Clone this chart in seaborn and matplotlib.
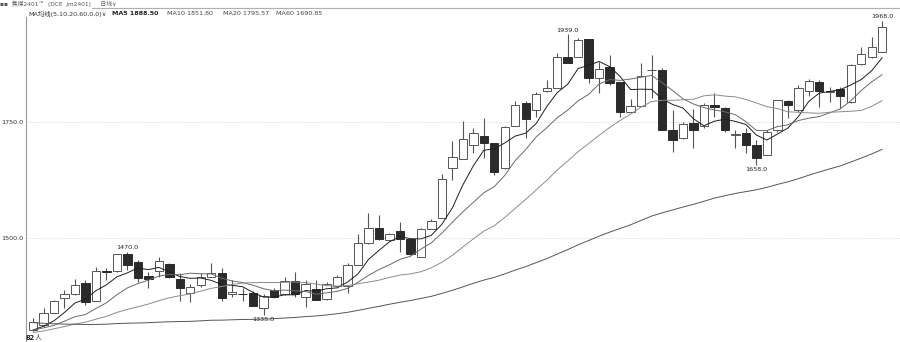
import numpy as np
import pandas as pd
import matplotlib
matplotlib.use("Agg")
import matplotlib.pyplot as plt
import seaborn as sns
from matplotlib.lines import Line2D

# ---- data (jm2401 daily candles) ----
open_ = [1302, 1313, 1339, 1371, 1379, 1403, 1364, 1429, 1428, 1466,
         1448, 1418, 1429, 1444, 1412, 1382, 1399, 1416, 1425, 1379,
         1380, 1382, 1349, 1388, 1379, 1407, 1373, 1390, 1369, 1397,
         1397, 1442, 1489, 1522, 1496, 1515, 1498, 1459, 1520, 1543,
         1651, 1670, 1700, 1720, 1705, 1651, 1741, 1791, 1776, 1817,
         1823, 1890, 1890, 1929, 1845, 1869, 1836, 1772, 1785, 1862,
         1862, 1733, 1716, 1748, 1741, 1787, 1780, 1722, 1726, 1700,
         1679, 1733, 1795, 1776, 1817, 1836, 1815, 1821, 1793, 1875,
         1890, 1901]
high = [1328, 1349, 1367, 1388, 1412, 1410, 1438, 1436, 1466, 1470,
        1453, 1427, 1459, 1446, 1425, 1401, 1425, 1446, 1435, 1410,
        1392, 1386, 1380, 1392, 1416, 1427, 1410, 1410, 1405, 1420,
        1446, 1509, 1554, 1550, 1511, 1535, 1498, 1522, 1541, 1638,
        1709, 1752, 1737, 1759, 1705, 1741, 1795, 1795, 1815, 1841,
        1899, 1939, 1931, 1929, 1879, 1895, 1836, 1800, 1877, 1895,
        1866, 1776, 1750, 1778, 1791, 1813, 1782, 1733, 1737, 1711,
        1733, 1797, 1797, 1830, 1843, 1841, 1826, 1826, 1875, 1912,
        1933, 1968]
low = [1300, 1308, 1338, 1349, 1377, 1356, 1364, 1410, 1427, 1431,
       1405, 1392, 1416, 1414, 1364, 1362, 1395, 1416, 1364, 1373,
       1364, 1354, 1335, 1371, 1377, 1373, 1351, 1366, 1366, 1395,
       1382, 1442, 1487, 1496, 1496, 1470, 1463, 1459, 1520, 1543,
       1625, 1670, 1683, 1673, 1636, 1649, 1741, 1716, 1761, 1815,
       1823, 1877, 1890, 1834, 1813, 1830, 1761, 1772, 1785, 1802,
       1733, 1685, 1713, 1694, 1737, 1761, 1729, 1694, 1683, 1658,
       1679, 1728, 1759, 1772, 1806, 1782, 1793, 1780, 1791, 1873,
       1888, 1901]
close = [1319, 1339, 1364, 1379, 1399, 1362, 1429, 1427, 1465, 1442,
         1414, 1412, 1451, 1416, 1392, 1395, 1416, 1425, 1371, 1384,
         1379, 1354, 1375, 1373, 1407, 1379, 1401, 1366, 1401, 1416,
         1442, 1489, 1522, 1498, 1509, 1498, 1466, 1520, 1537, 1627,
         1675, 1713, 1726, 1705, 1642, 1739, 1787, 1757, 1810, 1823,
         1890, 1877, 1927, 1845, 1864, 1834, 1772, 1785, 1849, 1862,
         1733, 1711, 1746, 1733, 1787, 1782, 1733, 1722, 1700, 1673,
         1728, 1797, 1787, 1823, 1838, 1817, 1815, 1806, 1873, 1897,
         1912, 1955]
# closes before the visible window (not drawn), estimated from the MA curves
prev_close = [1425, 1418, 1430, 1410, 1402, 1415, 1396, 1388, 1400, 1380,
              1372, 1385, 1366, 1360, 1372, 1352, 1345, 1358, 1340, 1334,
              1345, 1330, 1322, 1328, 1305, 1290, 1282, 1270, 1262, 1255,
              1248, 1252, 1240, 1236, 1245, 1238, 1250, 1262, 1255, 1268,
              1275, 1270, 1282, 1290, 1285, 1298, 1305, 1296, 1310, 1302,
              1295, 1308, 1290, 1302, 1315, 1298, 1305, 1290, 1297]
ma_windows = [5, 10, 20, 60]
ma_values = ["1888.50", "1851.80", "1795.57", "1690.85"]
ytick_values = [1500, 1750]
marks_high = {9: "1470.0", 51: "1939.0", 81: "1968.0"}
marks_low = {22: "1335.0", 69: "1658.0"}

# ---- build table ----
n = len(close)
full = pd.Series(prev_close + close, dtype=float)
df = pd.DataFrame({"idx": np.arange(n), "open": open_, "high": high,
                   "low": low, "close": close})
for w in ma_windows:
    df[f"MA{w}"] = full.rolling(w).mean().iloc[len(prev_close):].to_numpy()

sns.set_style("white")
plt.rcParams["font.family"] = ["DejaVu Sans", "Noto Sans CJK SC"]

W, H = 900, 342
fig = plt.figure(figsize=(W / 100, H / 100), dpi=100)
fig.patch.set_facecolor("white")
ax = fig.add_axes([26 / W, 0, (W - 26) / W, (H - 17) / H])
ax.set_facecolor("white")

# candles
up = df["close"] >= df["open"]
body_lo = np.minimum(df["open"], df["close"])
body_hi = np.maximum(df["open"], df["close"])
ax.vlines(df["idx"], df["low"], body_lo, color="#555555", lw=0.8, zorder=2)
ax.vlines(df["idx"], body_hi, df["high"], color="#555555", lw=0.8, zorder=2)
heights = np.maximum(body_hi - body_lo, 1.2)
ax.bar(df["idx"][up], heights[up], bottom=body_lo[up], width=0.8,
       facecolor="white", edgecolor="#555555", linewidth=0.7, zorder=2)
ax.bar(df["idx"][~up], heights[~up], bottom=body_lo[~up], width=0.8,
       facecolor="#2b2b2b", edgecolor="#2b2b2b", linewidth=0.7, zorder=2)

# moving averages
ma_colors = {5: "#1e1e1e", 10: "#6a6a6a", 20: "#8c8c8c", 60: "#555555"}
for w in ma_windows:
    sns.lineplot(data=df, x="idx", y=f"MA{w}", ax=ax, color=ma_colors[w],
                 linewidth=0.7, zorder=3)

# annotations
for i, t in marks_high.items():
    ax.annotate(t, xy=(i, high[i]), xytext=(0, 1.2), textcoords="offset points",
                ha="center", va="bottom", fontsize=4.6, color="#222222")
for i, t in marks_low.items():
    ax.annotate(t, xy=(i, low[i]), xytext=(0, -1.5), textcoords="offset points",
                ha="center", va="top", fontsize=4.6, color="#222222")

ax.set_xlim(-0.67, 82.7)
ax.set_ylim(1276, 1976.4)
ax.set_xticks([])
ax.set_yticks(ytick_values)
ax.set_yticklabels([f"{v:.1f}" for v in ytick_values], fontsize=4.6, color="#333333")
ax.tick_params(axis="y", length=0, pad=2)
ax.set_xlabel("")
ax.set_ylabel("")
ax.yaxis.grid(True, linestyle=(0, (1, 2)), color="#c8c8c8", linewidth=0.6)
ax.xaxis.grid(False)
ax.set_axisbelow(True)
for s in ["top", "right", "bottom"]:
    ax.spines[s].set_visible(False)
ax.spines["left"].set_color("#999999")
ax.spines["left"].set_linewidth(0.8)

# header
def fx(px):
    return px / W

def fy(py):
    return 1 - py / H

fig.add_artist(Line2D([fx(92), 1], [fy(7.5), fy(7.5)], color="#b0b0b0", lw=0.8))
fig.text(fx(0), fy(3.5), "▪▪  焦煤2401™  (DCE  jm2401)     日线∨", fontsize=4.2,
         color="#555555", va="center", ha="left")
fig.text(fx(28), fy(13.5), "MA均线(5,10,20,60,0,0)∨", fontsize=4.6,
         color="#333333", va="center", ha="left")
xs = [112, 167, 223, 276]
for k, (w, v) in enumerate(zip(ma_windows, ma_values)):
    fig.text(fx(xs[k]), fy(13.5), f"MA{w} {v}", fontsize=4.6,
             color="#222222" if k == 0 else "#444444",
             fontweight="bold" if k == 0 else "normal", va="center", ha="left")
fig.text(fx(26), fy(338), "82", fontsize=4.8, fontweight="bold",
         color="#222222", va="center", ha="left")
fig.text(fx(35), fy(338), "人", fontsize=4.8, color="#333333", va="center", ha="left")

fig.savefig("out.png", dpi=100, facecolor="white")
